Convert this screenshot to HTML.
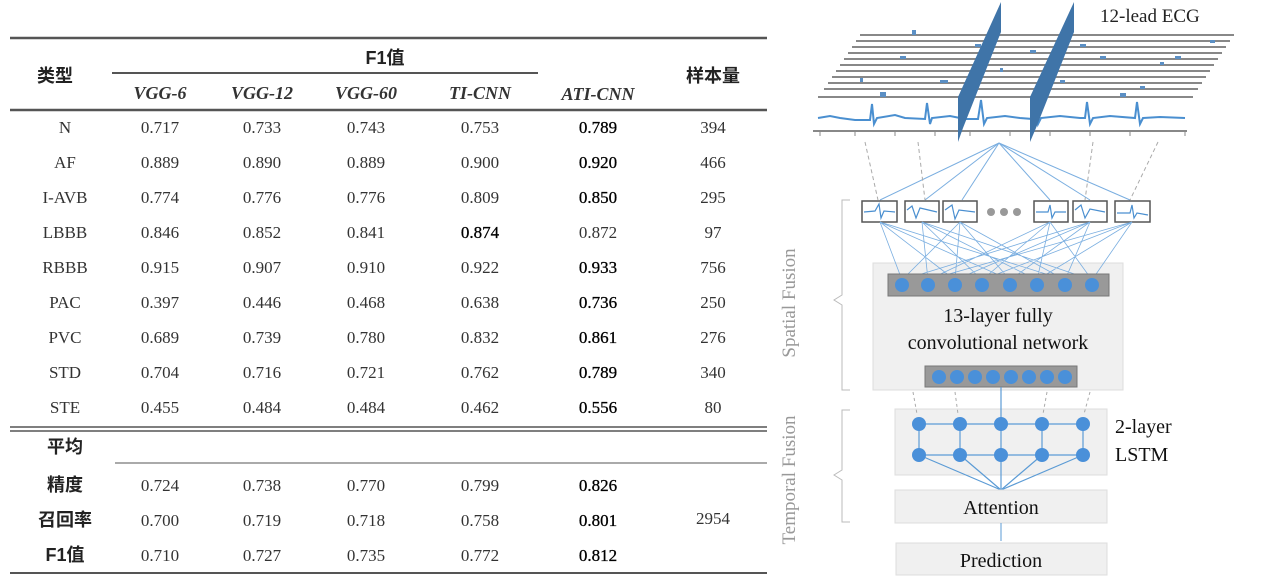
<!DOCTYPE html>
<html><head><meta charset="utf-8"><style>
body{margin:0;background:#fff;width:1269px;height:585px;overflow:hidden}
svg{display:block}
.t{font-family:"Liberation Serif","Noto Serif CJK SC",serif;font-size:17px;fill:#333;text-anchor:middle}
.b{fill:#000;stroke:#000;stroke-width:0.3}
.h{font-family:"Liberation Serif",serif;font-size:18px;font-style:italic;font-weight:bold;fill:#333;text-anchor:middle}
.c{font-family:"Liberation Sans","Noto Sans CJK SC",sans-serif;font-size:18px;font-weight:bold;fill:#222;text-anchor:middle}
.d{font-family:"Liberation Serif",serif;fill:#111;text-anchor:middle}
</style></head><body>
<svg width="1269" height="585" viewBox="0 0 1269 585">
<g stroke="#555">
<line x1="10" y1="38" x2="767" y2="38" stroke-width="2.5"/>
<line x1="112" y1="73" x2="538" y2="73" stroke-width="2"/>
<line x1="10" y1="110" x2="767" y2="110" stroke-width="2.5"/>
<line x1="10" y1="427" x2="767" y2="427" stroke-width="1.5"/>
<line x1="10" y1="431" x2="767" y2="431" stroke-width="1.5"/>
<line x1="115" y1="463" x2="767" y2="463" stroke-width="1"/>
<line x1="10" y1="573" x2="767" y2="573" stroke-width="2"/>
</g>
<text class="c" x="385" y="64">F1值</text>
<text class="c" x="55" y="82">类型</text>
<text class="c" x="713" y="82">样本量</text>
<text x="160" y="99" class="h">VGG-6</text><text x="262" y="99" class="h">VGG-12</text><text x="366" y="99" class="h">VGG-60</text><text x="480" y="99" class="h">TI-CNN</text><text x="598" y="100" class="h">ATI-CNN</text>
<g>
<text class="t" x="65" y="133">N</text><text class="t" x="160" y="133">0.717</text><text class="t" x="262" y="133">0.733</text><text class="t" x="366" y="133">0.743</text><text class="t" x="480" y="133">0.753</text><text class="t b" x="598" y="133">0.789</text><text class="t" x="713" y="133">394</text>
<text class="t" x="65" y="168">AF</text><text class="t" x="160" y="168">0.889</text><text class="t" x="262" y="168">0.890</text><text class="t" x="366" y="168">0.889</text><text class="t" x="480" y="168">0.900</text><text class="t b" x="598" y="168">0.920</text><text class="t" x="713" y="168">466</text>
<text class="t" x="65" y="203">I-AVB</text><text class="t" x="160" y="203">0.774</text><text class="t" x="262" y="203">0.776</text><text class="t" x="366" y="203">0.776</text><text class="t" x="480" y="203">0.809</text><text class="t b" x="598" y="203">0.850</text><text class="t" x="713" y="203">295</text>
<text class="t" x="65" y="238">LBBB</text><text class="t" x="160" y="238">0.846</text><text class="t" x="262" y="238">0.852</text><text class="t" x="366" y="238">0.841</text><text class="t b" x="480" y="238">0.874</text><text class="t" x="598" y="238">0.872</text><text class="t" x="713" y="238">97</text>
<text class="t" x="65" y="273">RBBB</text><text class="t" x="160" y="273">0.915</text><text class="t" x="262" y="273">0.907</text><text class="t" x="366" y="273">0.910</text><text class="t" x="480" y="273">0.922</text><text class="t b" x="598" y="273">0.933</text><text class="t" x="713" y="273">756</text>
<text class="t" x="65" y="308">PAC</text><text class="t" x="160" y="308">0.397</text><text class="t" x="262" y="308">0.446</text><text class="t" x="366" y="308">0.468</text><text class="t" x="480" y="308">0.638</text><text class="t b" x="598" y="308">0.736</text><text class="t" x="713" y="308">250</text>
<text class="t" x="65" y="343">PVC</text><text class="t" x="160" y="343">0.689</text><text class="t" x="262" y="343">0.739</text><text class="t" x="366" y="343">0.780</text><text class="t" x="480" y="343">0.832</text><text class="t b" x="598" y="343">0.861</text><text class="t" x="713" y="343">276</text>
<text class="t" x="65" y="378">STD</text><text class="t" x="160" y="378">0.704</text><text class="t" x="262" y="378">0.716</text><text class="t" x="366" y="378">0.721</text><text class="t" x="480" y="378">0.762</text><text class="t b" x="598" y="378">0.789</text><text class="t" x="713" y="378">340</text>
<text class="t" x="65" y="413">STE</text><text class="t" x="160" y="413">0.455</text><text class="t" x="262" y="413">0.484</text><text class="t" x="366" y="413">0.484</text><text class="t" x="480" y="413">0.462</text><text class="t b" x="598" y="413">0.556</text><text class="t" x="713" y="413">80</text>
<text class="c" x="65" y="453">平均</text>
<text class="c" x="65" y="491">精度</text><text class="t" x="160" y="491">0.724</text><text class="t" x="262" y="491">0.738</text><text class="t" x="366" y="491">0.770</text><text class="t" x="480" y="491">0.799</text><text class="t b" x="598" y="491">0.826</text>
<text class="c" x="65" y="526">召回率</text><text class="t" x="160" y="526">0.700</text><text class="t" x="262" y="526">0.719</text><text class="t" x="366" y="526">0.718</text><text class="t" x="480" y="526">0.758</text><text class="t b" x="598" y="526">0.801</text>
<text class="c" x="65" y="561">F1值</text><text class="t" x="160" y="561">0.710</text><text class="t" x="262" y="561">0.727</text><text class="t" x="366" y="561">0.735</text><text class="t" x="480" y="561">0.772</text><text class="t b" x="598" y="561">0.812</text>
<text class="t" x="713" y="524">2954</text>
</g>
<g stroke="#888" stroke-width="2">
<line x1="860" y1="35" x2="1234" y2="35"/><line x1="856" y1="41" x2="1230" y2="41"/><line x1="852" y1="47" x2="1226" y2="47"/><line x1="848" y1="53" x2="1222" y2="53"/><line x1="844" y1="59" x2="1218" y2="59"/><line x1="840" y1="65" x2="1214" y2="65"/><line x1="836" y1="71" x2="1210" y2="71"/><line x1="832" y1="77" x2="1206" y2="77"/><line x1="828" y1="83" x2="1202" y2="83"/><line x1="824" y1="89" x2="1198" y2="89"/><line x1="818" y1="97" x2="1193" y2="97"/>
<line x1="813" y1="131" x2="1187" y2="131"/>
</g>
<g stroke="#888" stroke-width="1"><line x1="820" y1="131" x2="820" y2="136"/><line x1="855" y1="131" x2="855" y2="136"/><line x1="895" y1="131" x2="895" y2="136"/><line x1="935" y1="131" x2="935" y2="136"/><line x1="970" y1="131" x2="970" y2="136"/><line x1="1010" y1="131" x2="1010" y2="136"/><line x1="1050" y1="131" x2="1050" y2="136"/><line x1="1090" y1="131" x2="1090" y2="136"/><line x1="1130" y1="131" x2="1130" y2="136"/><line x1="1185" y1="131" x2="1185" y2="136"/></g>
<g fill="#5b8fc4">
<rect x="912" y="30" width="4" height="5"/><rect x="975" y="44" width="6" height="3"/><rect x="1030" y="50" width="6" height="3"/><rect x="1100" y="56" width="6" height="3"/><rect x="940" y="80" width="8" height="3"/><rect x="1120" y="93" width="6" height="4"/><rect x="880" y="92" width="6" height="5"/><rect x="1080" y="44" width="6" height="3"/><rect x="1175" y="56" width="6" height="3"/><rect x="900" y="56" width="6" height="3"/><rect x="1210" y="40" width="5" height="3"/><rect x="1000" y="68" width="3" height="4"/><rect x="1140" y="86" width="5" height="3"/><rect x="860" y="78" width="3" height="4"/><rect x="1060" y="80" width="5" height="3"/><rect x="1160" y="62" width="4" height="3"/>
</g>
<polyline fill="none" stroke="#4a8fd0" stroke-width="2" points="818,118 830,116 840,118 855,120 870,120 872,104 874,124 877,118 895,115 905,118 925,119 927,103 930,124 932,118 950,116 965,119 978,119 981,100 984,124 987,118 1005,116 1020,118 1033,119 1035,102 1038,124 1041,118 1060,116 1080,118 1085,118 1087,102 1090,124 1093,118 1110,116 1135,118 1137,102 1140,124 1143,118 1160,117 1185,118"/>
<polygon fill="#3f74a8" points="958,142 958,97 1001,2 1001,32 963,128"/>
<polygon fill="#3f74a8" points="1030,142 1030,97 1074,2 1074,32 1036,128"/>
<text x="1100" y="22" font-family="Liberation Serif" font-size="19" fill="#222">12-lead ECG</text>
<g stroke="#7aaee0" stroke-width="1" fill="none">
<line x1="999" y1="143" x2="880" y2="200"/><line x1="999" y1="143" x2="925" y2="200"/><line x1="999" y1="143" x2="962" y2="200"/><line x1="999" y1="143" x2="1050" y2="200"/><line x1="999" y1="143" x2="1090" y2="200"/><line x1="999" y1="143" x2="1130" y2="200"/>
</g>
<g stroke="#aaa" stroke-dasharray="4,3" fill="none"><line x1="865" y1="142" x2="878" y2="200"/><line x1="918" y1="142" x2="925" y2="200"/><line x1="1093" y1="142" x2="1085" y2="200"/><line x1="1158" y1="142" x2="1130" y2="200"/></g>
<g fill="#fff" stroke="#555" stroke-width="1.5">
<rect x="862" y="201" width="35" height="21"/><rect x="905" y="201" width="34" height="21"/><rect x="943" y="201" width="34" height="21"/><rect x="1034" y="201" width="34" height="21"/><rect x="1073" y="201" width="34" height="21"/><rect x="1115" y="201" width="35" height="21"/>
</g>
<g fill="none" stroke="#4a8fd0" stroke-width="1.2">
<polyline points="864,212 875,211 879,204 881,218 884,211 895,212"/><polyline points="907,210 912,206 916,218 920,208 937,212"/><polyline points="945,210 952,205 955,219 959,210 975,212"/><polyline points="1036,212 1048,212 1050,205 1052,218 1055,212 1066,212"/><polyline points="1075,210 1081,205 1085,218 1090,209 1105,212"/><polyline points="1117,213 1130,213 1132,205 1134,218 1137,213 1148,215"/>
</g>
<g fill="#999"><circle cx="991" cy="212" r="4"/><circle cx="1004" cy="212" r="4"/><circle cx="1017" cy="212" r="4"/></g>
<path d="M850 200 h-8 v95 l-8 5 l8 5 v85 h8" fill="none" stroke="#bbb"/>
<text transform="translate(795,303) rotate(-90)" font-family="Liberation Serif" font-size="19" fill="#999" text-anchor="middle">Spatial Fusion</text>
<rect x="873" y="263" width="250" height="127" fill="#f0f0f0" stroke="#ddd"/>
<g stroke="#7aaee0" stroke-width="0.8">
<path d="M880 222 L902 280 M880 222 L955 280 M880 222 L1010 280 M880 222 L1065 280 M922 222 L928 280 M922 222 L982 280 M922 222 L1037 280 M922 222 L1092 280 M960 222 L902 280 M960 222 L955 280 M960 222 L1010 280 M960 222 L1065 280 M1050 222 L928 280 M1050 222 L982 280 M1050 222 L1037 280 M1050 222 L1092 280 M1090 222 L902 280 M1090 222 L955 280 M1090 222 L1010 280 M1090 222 L1065 280 M1132 222 L928 280 M1132 222 L982 280 M1132 222 L1037 280 M1132 222 L1092 280"/>
</g>
<rect x="888" y="274" width="221" height="22" fill="#999" stroke="#777"/>
<g fill="#4a90d9"><circle cx="902" cy="285" r="7"/><circle cx="928" cy="285" r="7"/><circle cx="955" cy="285" r="7"/><circle cx="982" cy="285" r="7"/><circle cx="1010" cy="285" r="7"/><circle cx="1037" cy="285" r="7"/><circle cx="1065" cy="285" r="7"/><circle cx="1092" cy="285" r="7"/></g>
<text x="998" y="322" class="d" font-size="20">13-layer fully</text>
<text x="998" y="349" class="d" font-size="20">convolutional network</text>
<rect x="925" y="366" width="152" height="21" fill="#999" stroke="#777"/>
<g fill="#4a90d9"><circle cx="939" cy="377" r="7"/><circle cx="957" cy="377" r="7"/><circle cx="975" cy="377" r="7"/><circle cx="993" cy="377" r="7"/><circle cx="1011" cy="377" r="7"/><circle cx="1029" cy="377" r="7"/><circle cx="1047" cy="377" r="7"/><circle cx="1065" cy="377" r="7"/></g>
<path d="M850 410 h-8 v60 l-8 5 l8 5 v42 h8" fill="none" stroke="#bbb"/>
<text transform="translate(795,480) rotate(-90)" font-family="Liberation Serif" font-size="19" fill="#999" text-anchor="middle">Temporal Fusion</text>
<rect x="895" y="409" width="212" height="66" fill="#f0f0f0" stroke="#ddd"/>
<g stroke="#aaa" stroke-dasharray="3,3"><line x1="913" y1="392" x2="917" y2="414"/><line x1="955" y1="392" x2="958" y2="414"/><line x1="1047" y1="392" x2="1043" y2="414"/><line x1="1090" y1="392" x2="1084" y2="414"/></g>
<g stroke="#5b9bd5" stroke-width="1.2"><line x1="1001" y1="387" x2="1001" y2="490"/>
<line x1="919" y1="424" x2="1083" y2="424"/><line x1="919" y1="455" x2="1083" y2="455"/>
<line x1="919" y1="424" x2="919" y2="455"/><line x1="960" y1="424" x2="960" y2="455"/><line x1="1042" y1="424" x2="1042" y2="455"/><line x1="1083" y1="424" x2="1083" y2="455"/>
<line x1="919" y1="455" x2="1001" y2="490"/><line x1="960" y1="455" x2="1001" y2="490"/><line x1="1042" y1="455" x2="1001" y2="490"/><line x1="1083" y1="455" x2="1001" y2="490"/></g>
<g fill="#4a90d9"><circle cx="919" cy="424" r="7"/><circle cx="960" cy="424" r="7"/><circle cx="1001" cy="424" r="7"/><circle cx="1042" cy="424" r="7"/><circle cx="1083" cy="424" r="7"/><circle cx="919" cy="455" r="7"/><circle cx="960" cy="455" r="7"/><circle cx="1001" cy="455" r="7"/><circle cx="1042" cy="455" r="7"/><circle cx="1083" cy="455" r="7"/></g>
<text x="1115" y="433" font-family="Liberation Serif" font-size="20" fill="#111">2-layer</text>
<text x="1115" y="461" font-family="Liberation Serif" font-size="20" fill="#111">LSTM</text>
<rect x="895" y="490" width="212" height="33" fill="#f0f0f0" stroke="#ddd"/>
<text x="1001" y="514" class="d" font-size="20">Attention</text>
<line x1="1001" y1="523" x2="1001" y2="541" stroke="#5b9bd5"/>
<rect x="896" y="543" width="211" height="32" fill="#f0f0f0" stroke="#ddd"/>
<text x="1001" y="567" class="d" font-size="20">Prediction</text>
</svg>
</body></html>
